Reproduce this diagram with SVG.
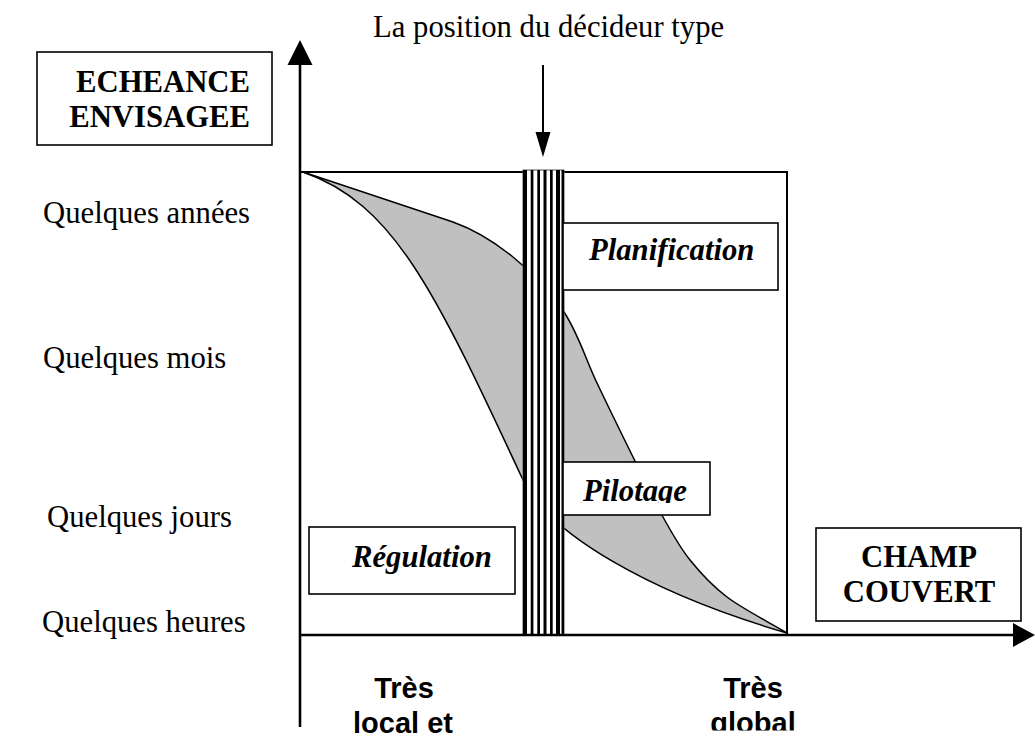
<svg xmlns="http://www.w3.org/2000/svg" width="1035" height="751" viewBox="0 0 1035 751">
  <style>
    .serif { font-family: "Liberation Serif", "Times New Roman", serif; font-size: 30.7px; fill: #000; }
    .b { font-weight: bold; }
    .bi { font-weight: bold; font-style: italic; }
    .sans { font-family: "Liberation Sans", Arial, sans-serif; font-size: 29px; font-weight: bold; fill: #000; }
    .box { fill: #fff; stroke: #000; stroke-width: 1.6; }
    .axis { stroke: #000; stroke-width: 2.6; fill: none; }
    .curve { fill: none; stroke: #000; stroke-width: 1.5; }
    .stripe { fill: #000; }
  </style>
  <defs>
    <clipPath id="clipPilot"><rect x="560" y="455" width="160" height="48"/></clipPath>
    <clipPath id="clipGlobal"><rect x="690" y="700" width="130" height="30.5"/></clipPath>
  </defs>
  <rect width="1035" height="751" fill="#fff"/>

  <!-- main frame -->
  <g id="frame">
    <rect x="300" y="172" width="487" height="463" fill="none" stroke="#000" stroke-width="2"/>
  </g>

  <!-- shaded band between curves -->
  <g id="band">
    <path fill="#c0c0c0" stroke="none" d="M303,172 C353,189 403,205.5 453,222 C474,229.5 494.5,242 513,257 C531.5,272 550,291 564,312 C578,333 585.5,358.8 597,383 C608.5,407.2 622,434.7 633,457 C644,479.3 653.5,499.8 663,517 C672.5,534.2 679.3,546.7 690,560 C700.7,573.3 710.8,584.8 727,597 C743.2,609.2 767,621 787,633 C647,592.4 548,532.5 523,480 C433,286.5 393,203.5 303,172 Z"/>
    <path class="curve" d="M303,172 C353,189 403,205.5 453,222 C474,229.5 494.5,242 513,257 C531.5,272 550,291 564,312 C578,333 585.5,358.8 597,383 C608.5,407.2 622,434.7 633,457 C644,479.3 653.5,499.8 663,517 C672.5,534.2 679.3,546.7 690,560 C700.7,573.3 710.8,584.8 727,597 C743.2,609.2 767,621 787,633"/>
    <path class="curve" d="M303,172 C393,203.5 433,286.5 523,480 C548,532.5 647,592.4 787,633"/>
  </g>

  <!-- striped bar (decision maker position) -->
  <g id="bar">
    <rect x="523" y="170" width="41" height="465" fill="#fff" stroke="#555" stroke-width="1"/>
    <rect class="stripe" x="523" y="170" width="4" height="465"/>
    <rect class="stripe" x="530.7" y="170" width="2.7" height="465"/>
    <rect class="stripe" x="537.3" y="170" width="2.7" height="465"/>
    <rect class="stripe" x="543.5" y="170" width="3" height="465"/>
    <rect class="stripe" x="550" y="170" width="2.7" height="465"/>
    <rect class="stripe" x="556" y="170" width="4" height="465"/>
    <rect class="stripe" x="561.5" y="170" width="2.5" height="465"/>
  </g>

  <!-- connectors: axes and pointer arrow -->
  <g id="connectors">
    <line class="axis" x1="300" y1="727" x2="300" y2="62"/>
    <polygon points="300,40 287.5,65 312.5,65" fill="#000"/>
    <line class="axis" x1="300" y1="635" x2="1014" y2="635"/>
    <polygon points="1035,635 1013,623 1013,647" fill="#000"/>
    <line x1="543" y1="65" x2="543" y2="134" stroke="#000" stroke-width="2"/>
    <polygon points="543,157 535.5,132 550.5,132" fill="#000"/>
  </g>

  <g id="title">
    <text class="serif" x="373" y="37">La position du décideur type</text>
  </g>

  <g id="echeance">
    <rect class="box" x="37" y="52" width="235" height="93"/>
    <text class="serif b" x="250" y="92" text-anchor="end">ECHEANCE</text>
    <text class="serif b" x="250" y="127" text-anchor="end">ENVISAGEE</text>
  </g>

  <g id="ylabels">
    <text class="serif" x="43" y="223">Quelques années</text>
    <text class="serif" x="43" y="368">Quelques mois</text>
    <text class="serif" x="47" y="527">Quelques jours</text>
    <text class="serif" x="42" y="632">Quelques heures</text>
  </g>

  <g id="planification">
    <rect class="box" x="563" y="223" width="215" height="67"/>
    <text class="serif bi" x="589" y="260">Planification</text>
  </g>

  <g id="pilotage">
    <rect class="box" x="563" y="462" width="147" height="53"/>
    <text class="serif bi" x="583" y="501" clip-path="url(#clipPilot)">Pilotage</text>
  </g>

  <g id="regulation">
    <rect class="box" x="309" y="527" width="206" height="67"/>
    <text class="serif bi" x="352" y="567">Régulation</text>
  </g>

  <g id="champ">
    <rect class="box" x="816" y="528" width="205" height="93"/>
    <text class="serif b" x="919" y="567" text-anchor="middle">CHAMP</text>
    <text class="serif b" x="919" y="602" text-anchor="middle">COUVERT</text>
  </g>

  <g id="xlabel-local">
    <text class="sans" x="404" y="698" text-anchor="middle">Très</text>
    <text class="sans" x="403" y="733" text-anchor="middle">local et</text>
  </g>

  <g id="xlabel-global">
    <text class="sans" x="753" y="698" text-anchor="middle">Très</text>
    <text class="sans" x="753" y="733" text-anchor="middle" clip-path="url(#clipGlobal)">global</text>
  </g>
</svg>
